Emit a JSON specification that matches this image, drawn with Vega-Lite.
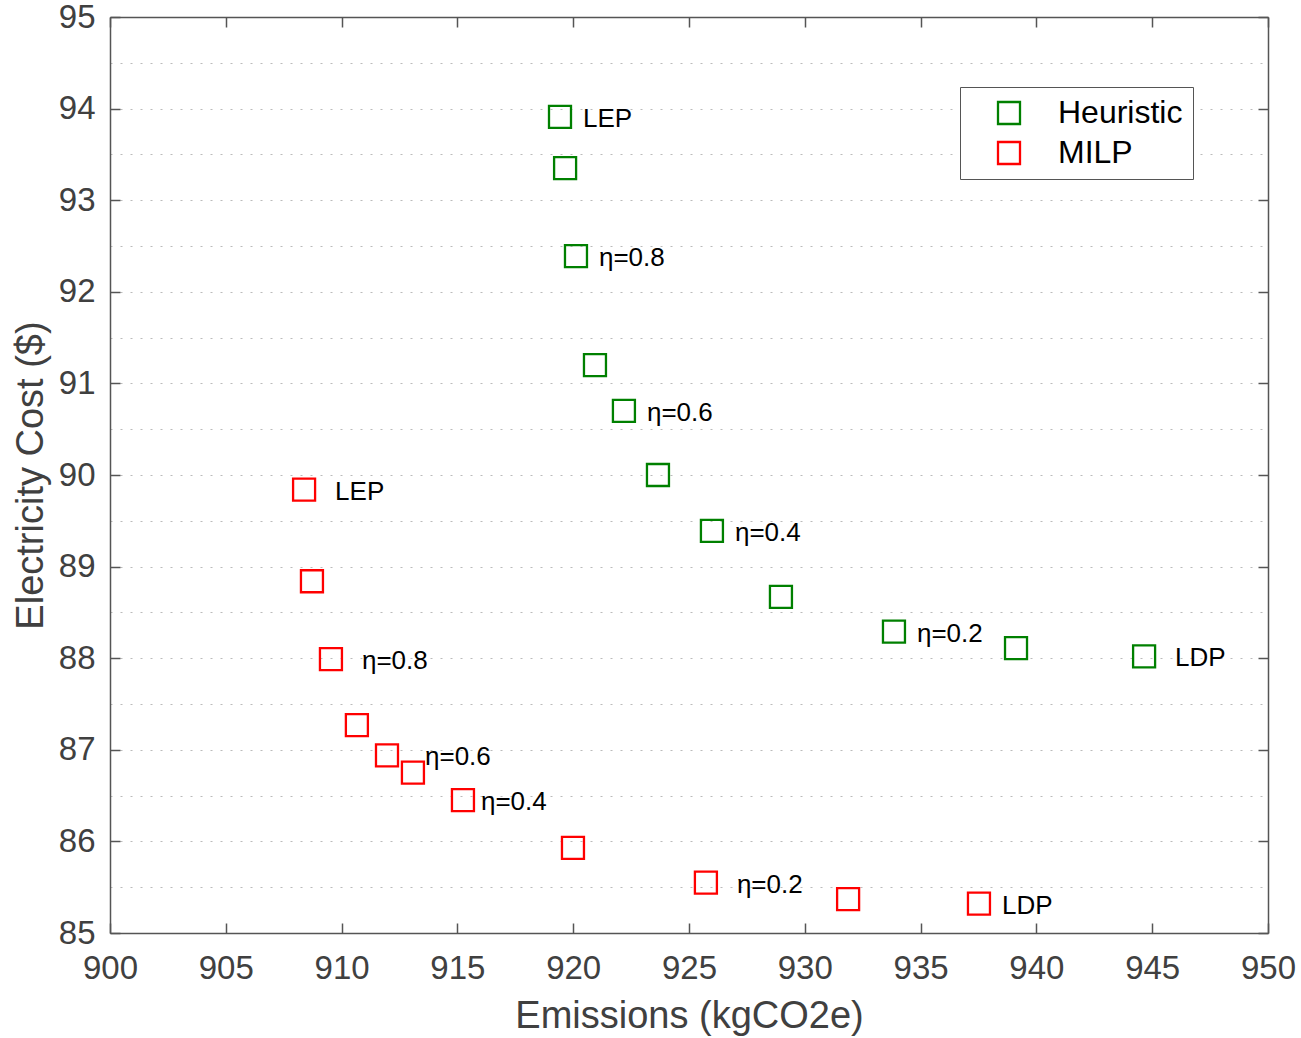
{
  "$schema": "https://vega.github.io/schema/vega-lite/v6.json",
  "width": 1158,
  "height": 916,
  "autosize": {"type": "none"},
  "padding": {"left": 110, "top": 17, "right": 33, "bottom": 105},
  "background": "white",
  "config": {
    "view": {"stroke": null},
    "font": "Liberation Sans",
    "axis": {
      "domainColor": "#555555",
      "domainWidth": 1.5,
      "tickColor": "#555555",
      "tickWidth": 1.5,
      "labelColor": "#404040",
      "titleColor": "#404040",
      "labelFont": "Liberation Sans",
      "titleFont": "Liberation Sans",
      "labelFontSize": 33,
      "titleFontSize": 38,
      "titleFontWeight": "normal",
      "labelFlush": false,
      "labelOverlap": false,
      "grid": false
    },
    "text": {"align": "left", "baseline": "middle", "dy": 2, "fontSize": 26, "color": "black", "font": "Liberation Sans"}
  },
  "data": {
    "values": [
      {"method": "Heuristic", "emissions": 919.43, "cost": 93.91, "label": "LEP"},
      {"method": "Heuristic", "emissions": 919.65, "cost": 93.35, "label": ""},
      {"method": "Heuristic", "emissions": 920.12, "cost": 92.39, "label": "η=0.8"},
      {"method": "Heuristic", "emissions": 920.94, "cost": 91.20, "label": ""},
      {"method": "Heuristic", "emissions": 922.19, "cost": 90.70, "label": "η=0.6"},
      {"method": "Heuristic", "emissions": 923.66, "cost": 90.00, "label": ""},
      {"method": "Heuristic", "emissions": 925.99, "cost": 89.39, "label": "η=0.4"},
      {"method": "Heuristic", "emissions": 928.97, "cost": 88.67, "label": ""},
      {"method": "Heuristic", "emissions": 933.85, "cost": 88.29, "label": "η=0.2"},
      {"method": "Heuristic", "emissions": 939.12, "cost": 88.11, "label": ""},
      {"method": "Heuristic", "emissions": 944.65, "cost": 88.02, "label": "LDP"},
      {"method": "MILP", "emissions": 908.38, "cost": 89.84, "label": "LEP"},
      {"method": "MILP", "emissions": 908.72, "cost": 88.84, "label": ""},
      {"method": "MILP", "emissions": 909.54, "cost": 87.99, "label": "η=0.8"},
      {"method": "MILP", "emissions": 910.66, "cost": 87.27, "label": ""},
      {"method": "MILP", "emissions": 911.96, "cost": 86.94, "label": "η=0.6"},
      {"method": "MILP", "emissions": 913.08, "cost": 86.75, "label": ""},
      {"method": "MILP", "emissions": 915.24, "cost": 86.45, "label": "η=0.4"},
      {"method": "MILP", "emissions": 919.99, "cost": 85.93, "label": ""},
      {"method": "MILP", "emissions": 925.73, "cost": 85.55, "label": "η=0.2"},
      {"method": "MILP", "emissions": 931.87, "cost": 85.37, "label": ""},
      {"method": "MILP", "emissions": 937.52, "cost": 85.32, "label": "LDP"}
    ]
  },
  "encoding": {
    "x": {"field": "emissions", "type": "quantitative", "scale": {"domain": [900, 950], "nice": false, "zero": false}},
    "y": {"field": "cost", "type": "quantitative", "scale": {"domain": [85, 95], "nice": false, "zero": false}}
  },
  "layer": [
    {
      "mark": {"type": "point", "shape": "square", "filled": false, "size": 484, "strokeWidth": 2.3, "opacity": 1},
      "encoding": {
        "x": {
          "field": "emissions", "type": "quantitative",
          "axis": {
            "orient": "bottom",
            "values": [900, 905, 910, 915, 920, 925, 930, 935, 940, 945, 950],
            "tickSize": -10,
            "labelPadding": 29,
            "title": "Emissions (kgCO2e)",
            "titlePadding": 12
          }
        },
        "y": {
          "field": "cost", "type": "quantitative",
          "axis": {
            "orient": "left",
            "values": [85, 85.5, 86, 86.5, 87, 87.5, 88, 88.5, 89, 89.5, 90, 90.5, 91, 91.5, 92, 92.5, 93, 93.5, 94, 94.5, 95],
            "grid": true,
            "gridDash": [2, 8],
            "gridColor": "#bbbbbb",
            "gridWidth": 1,
            "tickSize": -10,
            "tickOpacity": {"condition": {"test": "datum.value % 1 !== 0", "value": 0}, "value": 1},
            "labelExpr": "datum.value % 1 === 0 ? format(datum.value, 'd') : ''",
            "labelPadding": 25,
            "title": "Electricity Cost ($)",
            "titlePadding": 8
          }
        },
        "color": {
          "field": "method", "type": "nominal",
          "scale": {"domain": ["Heuristic", "MILP"], "range": ["#008000", "#ff0000"]},
          "legend": {
            "title": null,
            "orient": "none",
            "legendX": 850,
            "legendY": 70,
            "strokeColor": "#555555",
            "fillColor": "white",
            "padding": 10,
            "labelFontSize": 32,
            "labelColor": "black",
            "labelFont": "Liberation Sans",
            "symbolType": "square",
            "symbolSize": 484,
            "symbolStrokeWidth": 2.3,
            "symbolOffset": 23,
            "labelOffset": 33,
            "rowPadding": 8
          }
        }
      }
    },
    {
      "transform": [{"filter": "datum.label != '' && ((datum.method == 'Heuristic' && datum.label != 'LDP') || (datum.method == 'MILP' && datum.label == 'LDP'))"}],
      "mark": {"type": "text", "dx": 23},
      "encoding": {
        "x": {
          "field": "emissions", "type": "quantitative",
          "axis": {"orient": "top", "values": [900, 905, 910, 915, 920, 925, 930, 935, 940, 945, 950], "tickSize": -10, "labels": false, "title": null}
        },
        "y": {
          "field": "cost", "type": "quantitative",
          "axis": {"orient": "right", "values": [85, 86, 87, 88, 89, 90, 91, 92, 93, 94, 95], "tickSize": -10, "labels": false, "title": null}
        },
        "text": {"field": "label"}
      }
    },
    {
      "transform": [{"filter": "(datum.method == 'Heuristic' && datum.label == 'LDP') || (datum.method == 'MILP' && indexof(['LEP', 'η=0.8', 'η=0.2'], datum.label) >= 0)"}],
      "mark": {"type": "text", "dx": 31},
      "encoding": {
        "x": {"field": "emissions", "type": "quantitative", "axis": null},
        "y": {"field": "cost", "type": "quantitative", "axis": null},
        "text": {"field": "label"}
      }
    },
    {
      "transform": [{"filter": "datum.method == 'MILP' && datum.label == 'η=0.6'"}],
      "mark": {"type": "text", "dx": 38},
      "encoding": {
        "x": {"field": "emissions", "type": "quantitative", "axis": null},
        "y": {"field": "cost", "type": "quantitative", "axis": null},
        "text": {"field": "label"}
      }
    },
    {
      "transform": [{"filter": "datum.method == 'MILP' && datum.label == 'η=0.4'"}],
      "mark": {"type": "text", "dx": 18},
      "encoding": {
        "x": {"field": "emissions", "type": "quantitative", "axis": null},
        "y": {"field": "cost", "type": "quantitative", "axis": null},
        "text": {"field": "label"}
      }
    }
  ],
  "resolve": {"axis": {"x": "independent", "y": "independent"}}
}
